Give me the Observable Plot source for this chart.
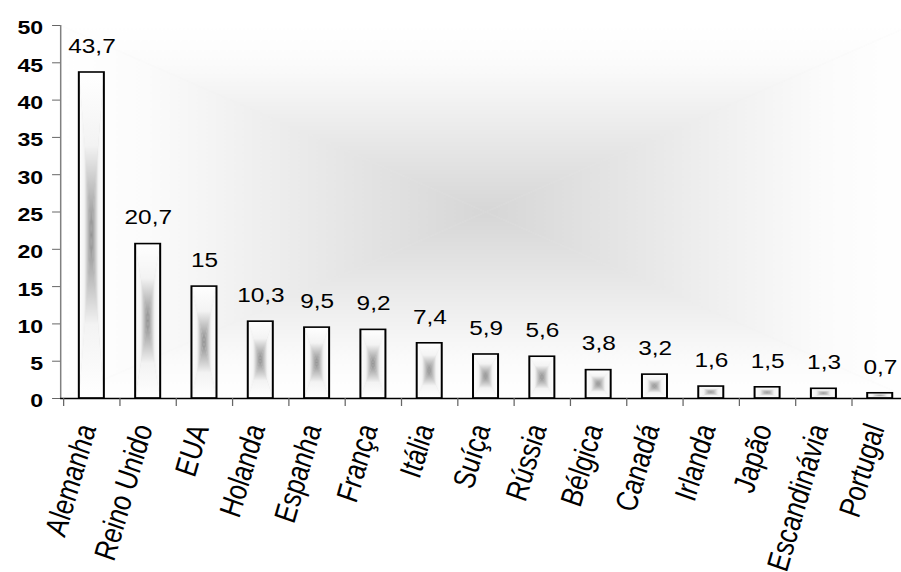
<!DOCTYPE html>
<html>
<head>
<meta charset="utf-8">
<script src="https://cdn.jsdelivr.net/npm/d3@7"></script>
<script src="https://cdn.jsdelivr.net/npm/@observablehq/plot@0.6"></script>
<style>
  html, body { margin: 0; padding: 0; background: #fff; }
  #wrap { width: 901px; height: 572px; overflow: hidden; position: relative; }
</style>
</head>
<body>
<svg width="0" height="0" style="position:absolute">
  <defs>
    <linearGradient id="bT" x1="0" y1="0" x2="0" y2="1">
      <stop offset="0" stop-color="#ffffff"/>
      <stop offset="0.45" stop-color="#f3f3f3"/>
      <stop offset="1" stop-color="#8a8a8a"/>
    </linearGradient>
    <linearGradient id="bB" href="#bT" x1="0" y1="1" x2="0" y2="0"/>
    <linearGradient id="bL" href="#bT" x1="0" y1="0" x2="1" y2="0"/>
    <linearGradient id="bR" href="#bT" x1="1" y1="0" x2="0" y2="0"/>
    <pattern id="barpat" patternUnits="objectBoundingBox" patternContentUnits="objectBoundingBox" width="1" height="1">
      <rect width="1" height="1" fill="#e0e0e0"/>
      <polygon points="0,0 1,0 0.5,0.5" fill="url(#bT)"/>
      <polygon points="0,1 1,1 0.5,0.5" fill="url(#bB)"/>
      <polygon points="0,0 0,1 0.5,0.5" fill="url(#bL)"/>
      <polygon points="1,0 1,1 0.5,0.5" fill="url(#bR)"/>
    </pattern>
    <linearGradient id="gT" x1="0" y1="0" x2="0" y2="1">
      <stop offset="0" stop-color="#ffffff"/>
      <stop offset="0.2" stop-color="#fbfbfb"/>
      <stop offset="1" stop-color="#d6d6d6"/>
    </linearGradient>
    <linearGradient id="gB" href="#gT" x1="0" y1="1" x2="0" y2="0"/>
    <linearGradient id="gL" href="#gT" x1="0" y1="0" x2="1" y2="0"/>
    <linearGradient id="gR" href="#gT" x1="1" y1="0" x2="0" y2="0"/>
    <pattern id="bgpat" patternUnits="objectBoundingBox" patternContentUnits="objectBoundingBox" width="1" height="1">
      <rect width="1" height="1" fill="#ececec"/>
      <polygon points="0,0 1,0 0.5,0.5" fill="url(#gT)"/>
      <polygon points="0,1 1,1 0.5,0.5" fill="url(#gB)"/>
      <polygon points="0,0 0,1 0.5,0.5" fill="url(#gL)"/>
      <polygon points="1,0 1,1 0.5,0.5" fill="url(#gR)"/>
    </pattern>
  </defs>
</svg>
<div id="wrap"></div>
<script>
const countries = ["Alemanha","Reino Unido","EUA","Holanda","Espanha","França","Itália","Suíça","Rússia","Bélgica","Canadá","Irlanda","Japão","Escandinávia","Portugal"];
const values = [43.7, 20.7, 15, 10.3, 9.5, 9.2, 7.4, 5.9, 5.6, 3.8, 3.2, 1.6, 1.5, 1.3, 0.7];
const yTicks = [0, 5, 10, 15, 20, 25, 30, 35, 40, 45, 50];

const data = countries.map((c, i) => ({country: c, value: values[i]}));
const fmt = v => String(v).replace(".", ",");

const S = 901 / 720;          // horizontal stretch of the whole picture
const W = 728, H = 572;
const mL = 48, mR = 0.7;
const step = (W - mL - mR) / countries.length;

const chart = Plot.plot({
  width: W,
  height: H,
  marginLeft: mL,
  marginRight: mR,
  marginTop: 25,
  marginBottom: 174,
  style: {fontFamily: "'Liberation Sans', Arial, sans-serif", background: "transparent", overflow: "visible"},
  x: {domain: countries, paddingInner: 0.56, paddingOuter: 0.28, label: null},
  y: {domain: [0, 50], label: null},
  marks: [
    Plot.frame({fill: "url(#bgpat)", stroke: "none"}),
    Plot.barY(data, {x: "country", y: "value", fill: "url(#barpat)", stroke: "#000", strokeWidth: 1.6}),
    Plot.text(data, {x: "country", y: "value", text: d => fmt(d.value), dy: -26, fontSize: 19.5, fill: "#000"}),
    Plot.frame({anchor: "left", stroke: "#808080", strokeWidth: 1.2}),
    Plot.ruleY([0], {stroke: "#000", strokeWidth: 1.4}),
    Plot.axisY({ticks: yTicks, label: null, tickSize: 6.4, tickFormat: () => "", stroke: "#666"}),
    Plot.axisY({ticks: yTicks, label: null, tickSize: 0, tickPadding: 14, dy: 3, fontSize: 18.5, fontWeight: "bold", fill: "#000", tickFormat: d => String(d)}),
    Plot.axisX({label: null, tickSize: 8, tickFormat: () => "", dx: -step / 2, stroke: "#666"}),
    Plot.axisX({label: null, tickSize: 0, tickPadding: 27, tickRotate: -77, dx: -4, fontSize: 25, fontStyle: "italic", fill: "#000"})
  ]
});

chart.setAttribute("preserveAspectRatio", "none");
chart.style.width = (W * S) + "px";
chart.style.height = H + "px";
chart.style.maxWidth = "none";
chart.style.display = "block";
document.getElementById("wrap").appendChild(chart);
</script>
</body>
</html>
